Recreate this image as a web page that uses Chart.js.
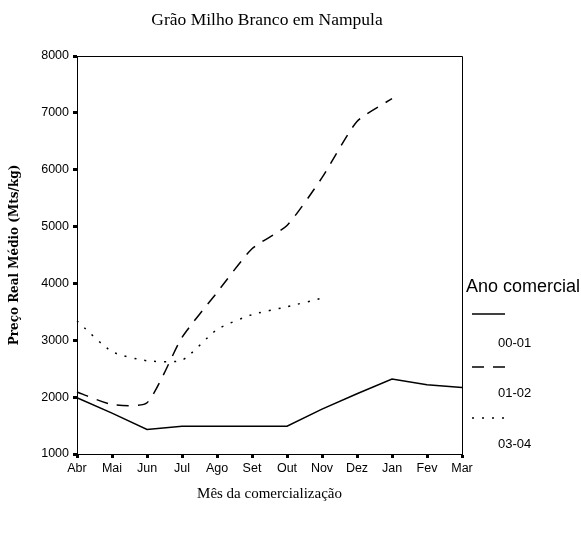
<!DOCTYPE html>
<html>
<head>
<meta charset="utf-8">
<script src="https://cdn.jsdelivr.net/npm/chart.js@4"></script>
<style>
html,body{margin:0;padding:0;background:#fff;}
#wrap{position:relative;width:581px;height:534px;}
</style>
</head>
<body>
<div id="wrap"><canvas id="c" width="581" height="534"></canvas></div>
<script>
const chartTitle = 'Grão Milho Branco em Nampula';
const xTitle = 'Mês da comercialização';
const yTitle = 'Preço Real Médio (Mts/kg)';
const legendTitle = 'Ano comercial';
const months = ['Abr','Mai','Jun','Jul','Ago','Set','Out','Nov','Dez','Jan','Fev','Mar'];
const seriesNames = ['00-01','01-02','03-04'];
const s0001 = [1990, 1720, 1430, 1490, 1490, 1490, 1490, 1790, 2060, 2320, 2220, 2170];
const s0102 = [2090, 1870, 1900, 3050, 3840, 4610, 5020, 5860, 6850, 7250, null, null];
const s0304 = [3340, 2800, 2640, 2650, 3190, 3450, 3590, 3740, null, null, null, null];
const yTicks = [1000, 2000, 3000, 4000, 5000, 6000, 7000, 8000];

const dashes = [[], [12, 9], [2, 8]];

const framePlugin = {
  id: 'frame',
  afterDraw(chart) {
    const {ctx, chartArea: a} = chart;
    ctx.save();
    ctx.strokeStyle = '#000';
    ctx.lineWidth = 1;
    ctx.beginPath();
    ctx.moveTo(a.left, a.top + 0.5);
    ctx.lineTo(a.right + 0.5, a.top + 0.5);
    ctx.lineTo(a.right + 0.5, a.bottom);
    ctx.stroke();
    // title
    ctx.fillStyle = '#000';
    ctx.font = '17.5px "Liberation Serif", "DejaVu Serif", serif';
    ctx.textAlign = 'center';
    ctx.textBaseline = 'middle';
    ctx.fillText(chartTitle, 267, 20);
    // legend
    ctx.textAlign = 'left';
    ctx.font = '18px "Liberation Sans", Arial, sans-serif';
    ctx.fillText(legendTitle, 466, 287);
    const lineYs = [314, 367, 418];
    const labelYs = [343, 393, 444];
    chart.data.datasets.forEach((ds, i) => {
      ctx.save();
      ctx.strokeStyle = '#000';
      ctx.lineWidth = 1.5;
      ctx.setLineDash(ds.borderDash || []);
      ctx.beginPath();
      ctx.moveTo(472, lineYs[i]);
      ctx.lineTo(505, lineYs[i]);
      ctx.stroke();
      ctx.restore();
      ctx.font = '13px "Liberation Sans", Arial, sans-serif';
      ctx.fillText(ds.label, 498, labelYs[i]);
    });
    ctx.restore();
  }
};

const sets = [s0001, s0102, s0304];
new Chart(document.getElementById('c'), {
  type: 'line',
  data: {
    labels: months,
    datasets: sets.map((d, i) => ({
      label: seriesNames[i],
      data: d,
      borderColor: '#000',
      borderWidth: 1.5,
      borderDash: dashes[i],
      pointRadius: 0,
      tension: i === 0 ? 0 : 0.2,
      fill: false,
      spanGaps: false
    }))
  },
  options: {
    responsive: false,
    animation: false,
    devicePixelRatio: 1,
    layout: {padding: {top: 56, right: 119, left: 0, bottom: 0}},
    plugins: {legend: {display: false}, title: {display: false}, tooltip: {enabled: false}},
    scales: {
      x: {
        offset: false,
        afterFit(s) { s.height = 80; },
        grid: {drawOnChartArea: false, drawTicks: true, tickLength: 4, tickWidth: 3, tickColor: '#000'},
        border: {display: true, color: '#000', width: 1},
        ticks: {color: '#000', padding: 3, maxRotation: 0, autoSkip: false,
          font: {family: '"Liberation Sans", Arial, sans-serif', size: 12.5}},
        title: {display: true, text: xTitle, color: '#000', padding: {top: 0, bottom: 31},
          font: {family: '"Liberation Serif", serif', size: 15}}
      },
      y: {
        min: yTicks[0], max: yTicks[yTicks.length - 1],
        afterFit(s) { s.width = 77; },
        afterBuildTicks(s) { s.ticks = yTicks.map(v => ({value: v})); },
        grid: {drawOnChartArea: false, drawTicks: true, tickLength: 4, tickWidth: 3, tickColor: '#000'},
        border: {display: true, color: '#000', width: 1},
        ticks: {color: '#000', padding: 4, callback: v => String(v),
          font: {family: '"Liberation Sans", Arial, sans-serif', size: 12.5}},
        title: {display: true, text: yTitle, color: '#000', padding: {top: 8, bottom: 0},
          font: {family: '"DejaVu Serif", serif', size: 12, weight: 'bold'}}
      }
    }
  },
  plugins: [framePlugin]
});
</script>
</body>
</html>
